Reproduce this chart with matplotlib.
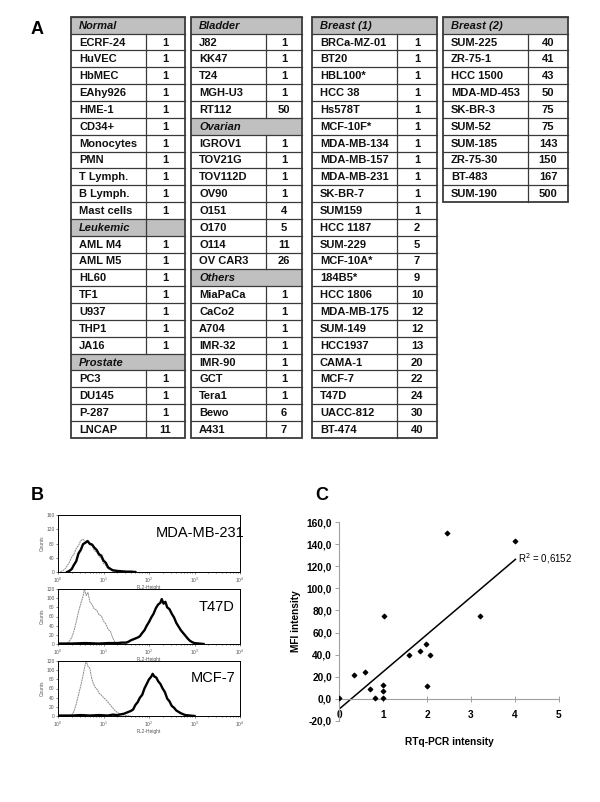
import numpy as np
import matplotlib
matplotlib.use("Agg")
import matplotlib.pyplot as plt
from matplotlib.patches import Rectangle

plt.rcParams["font.family"] = ["Liberation Sans", "DejaVu Sans"]

# ---- panel A: expression table ----
normal_cells = ["ECRF-24", "HuVEC", "HbMEC", "EAhy926", "HME-1", "CD34+", "Monocytes",
                "PMN", "T Lymph.", "B Lymph.", "Mast cells"]
normal_vals = [1, 1, 1, 1, 1, 1, 1, 1, 1, 1, 1]
leukemic_cells = ["AML M4", "AML M5", "HL60", "TF1", "U937", "THP1", "JA16"]
leukemic_vals = [1, 1, 1, 1, 1, 1, 1]
prostate_cells = ["PC3", "DU145", "P-287", "LNCAP"]
prostate_vals = [1, 1, 1, 11]
bladder_cells = ["J82", "KK47", "T24", "MGH-U3", "RT112"]
bladder_vals = [1, 1, 1, 1, 50]
ovarian_cells = ["IGROV1", "TOV21G", "TOV112D", "OV90", "O151", "O170", "O114", "OV CAR3"]
ovarian_vals = [1, 1, 1, 1, 4, 5, 11, 26]
others_cells = ["MiaPaCa", "CaCo2", "A704", "IMR-32", "IMR-90", "GCT", "Tera1", "Bewo", "A431"]
others_vals = [1, 1, 1, 1, 1, 1, 1, 6, 7]
breast1_cells = ["BRCa-MZ-01", "BT20", "HBL100*", "HCC 38", "Hs578T", "MCF-10F*",
                 "MDA-MB-134", "MDA-MB-157", "MDA-MB-231", "SK-BR-7", "SUM159", "HCC 1187",
                 "SUM-229", "MCF-10A*", "184B5*", "HCC 1806", "MDA-MB-175", "SUM-149",
                 "HCC1937", "CAMA-1", "MCF-7", "T47D", "UACC-812", "BT-474"]
breast1_vals = [1, 1, 1, 1, 1, 1, 1, 1, 1, 1, 1, 2, 5, 7, 9, 10, 12, 12, 13, 20, 22, 24, 30, 40]
breast2_cells = ["SUM-225", "ZR-75-1", "HCC 1500", "MDA-MD-453", "SK-BR-3", "SUM-52",
                 "SUM-185", "ZR-75-30", "BT-483", "SUM-190"]
breast2_vals = [40, 41, 43, 50, 75, 75, 143, 150, 167, 500]

table_columns = [
    [("Normal", normal_cells, normal_vals), ("Leukemic", leukemic_cells, leukemic_vals),
     ("Prostate", prostate_cells, prostate_vals)],
    [("Bladder", bladder_cells, bladder_vals), ("Ovarian", ovarian_cells, ovarian_vals),
     ("Others", others_cells, others_vals)],
    [("Breast (1)", breast1_cells, breast1_vals)],
    [("Breast (2)", breast2_cells, breast2_vals)],
]

# ---- panel B: flow cytometry histograms (log10 FL2, counts) ----
mda_iso_log = [0.05, 0.10, 0.15, 0.20, 0.25, 0.30, 0.35, 0.40, 0.45, 0.50, 0.55, 0.60, 0.65,
               0.70, 0.75, 0.80, 0.85, 0.90, 0.95, 1.00, 1.05, 1.10, 1.15, 1.20, 1.30, 1.40]
mda_iso_cnt = [1, 3, 8, 17, 27, 42, 50, 66, 74, 88, 92, 86, 84, 76, 74, 60, 56, 44, 38, 24,
               19, 9, 7, 3, 1, 0]
mda_ab_log = [0.20, 0.25, 0.30, 0.35, 0.40, 0.45, 0.50, 0.55, 0.60, 0.65, 0.70, 0.75, 0.80,
              0.85, 0.90, 0.95, 1.00, 1.05, 1.10, 1.15, 1.20, 1.25, 1.30, 1.40, 1.50, 1.60, 1.70]
mda_ab_cnt = [0, 3, 8, 20, 30, 52, 62, 78, 82, 87, 79, 77, 68, 62, 50, 46, 32, 26, 13, 9, 5,
              4, 3, 2, 1, 1, 0]

t47_iso_log = [0.15, 0.20, 0.25, 0.30, 0.35, 0.40, 0.45, 0.50, 0.55, 0.58, 0.62, 0.66, 0.70,
               0.75, 0.80, 0.85, 0.90, 0.95, 1.00, 1.05, 1.10, 1.15, 1.20, 1.25, 1.30, 1.40]
t47_iso_cnt = [0, 2, 6, 14, 28, 48, 70, 88, 104, 120, 106, 112, 92, 86, 76, 74, 64, 62, 50,
               44, 32, 28, 14, 4, 1, 0]
t47_ab_log = [0.00, 0.30, 0.60, 0.90, 1.10, 1.30, 1.40, 1.50, 1.55, 1.60, 1.65, 1.70, 1.75,
              1.80, 1.85, 1.90, 1.95, 2.00, 2.05, 2.10, 2.15, 2.20, 2.25, 2.28, 2.32, 2.36,
              2.40, 2.45, 2.50, 2.55, 2.60, 2.65, 2.70, 2.75, 2.80, 2.85, 2.90, 2.95, 3.00,
              3.10, 3.20]
t47_ab_cnt = [1, 1, 2, 1, 2, 2, 3, 3, 5, 8, 10, 12, 14, 17, 24, 30, 40, 48, 58, 66, 78, 86,
              90, 98, 88, 92, 80, 76, 66, 58, 46, 38, 30, 24, 18, 12, 7, 4, 2, 1, 0]

mcf_iso_log = [0.25, 0.30, 0.35, 0.40, 0.45, 0.50, 0.55, 0.58, 0.62, 0.66, 0.70, 0.74, 0.78,
               0.82, 0.86, 0.90, 0.95, 1.00, 1.05, 1.10, 1.15, 1.20, 1.25, 1.30, 1.35, 1.40,
               1.50, 1.60]
mcf_iso_cnt = [0, 2, 10, 26, 46, 66, 88, 104, 120, 108, 104, 82, 70, 62, 58, 50, 46, 40, 36,
               30, 24, 18, 12, 8, 5, 3, 1, 0]
mcf_ab_log = [0.00, 0.30, 0.50, 0.70, 0.90, 1.10, 1.20, 1.30, 1.40, 1.45, 1.50, 1.55, 1.60,
              1.65, 1.70, 1.75, 1.80, 1.85, 1.90, 1.95, 2.00, 2.05, 2.08, 2.12, 2.16, 2.20,
              2.25, 2.30, 2.35, 2.40, 2.45, 2.50, 2.55, 2.60, 2.65, 2.70, 2.75, 2.80, 2.90, 3.00]
mcf_ab_cnt = [1, 1, 2, 1, 2, 1, 3, 2, 4, 5, 7, 9, 11, 14, 24, 30, 40, 46, 60, 70, 80, 86, 92,
              86, 84, 76, 70, 60, 52, 38, 32, 22, 18, 12, 9, 6, 4, 2, 1, 0]

hist_names = ["MDA-MB-231", "T47D", "MCF-7"]

# ---- panel C: RTq-PCR vs MFI ----
rtq_pcr = [0.00, 0.34, 0.58, 0.70, 0.81, 1.00, 1.00, 1.00, 1.03, 1.58, 1.83, 1.98, 2.00,
           2.07, 2.45, 3.20, 4.01]
mfi = [1, 22, 24, 9, 1, 13, 7, 1, 75, 40, 43, 50, 12, 40, 150, 75, 143]
r2_text = "R$^2$ = 0,6152"

W, H = 600, 802
fig = plt.figure(figsize=(W / 100, H / 100), dpi=100)
canvas = fig.add_axes([0, 0, 1, 1])
canvas.set_xlim(0, W)
canvas.set_ylim(H, 0)
canvas.axis("off")

ROW_H = 16.84
TABLE_TOP = 16.8
table_x = [(71, 146, 185), (191, 266, 302), (312, 397, 437), (443, 528, 568)]
line_c = "#3a3a3a"
txt_kw = dict(fontsize=8.0, fontweight="bold", va="center", color="#111111")

for (x0, xs, x1), groups in zip(table_x, table_columns):
    row = 0
    for title, cells, vals in groups:
        top = TABLE_TOP + row * ROW_H
        canvas.add_patch(Rectangle((x0, top), x1 - x0, ROW_H, facecolor="#c0c0c0",
                                   edgecolor="none", zorder=1))
        canvas.text(x0 + 8, top + ROW_H / 2 + 0.5, title, style="italic", **txt_kw)
        canvas.plot([x0, x1], [top, top], color=line_c, lw=0.9, zorder=3)
        if title == "Leukemic":
            canvas.plot([xs, xs], [top, top + ROW_H], color=line_c, lw=0.9, zorder=3)
        row += 1
        for name, val in zip(cells, vals):
            top = TABLE_TOP + row * ROW_H
            canvas.plot([x0, x1], [top, top], color=line_c, lw=0.9, zorder=3)
            canvas.plot([xs, xs], [top, top + ROW_H], color=line_c, lw=0.9, zorder=3)
            canvas.text(x0 + 8, top + ROW_H / 2 + 0.5, name, **txt_kw)
            canvas.text((xs + x1) / 2, top + ROW_H / 2 + 0.5, str(val), ha="center", **txt_kw)
            row += 1
    bottom = TABLE_TOP + row * ROW_H
    canvas.add_patch(Rectangle((x0, TABLE_TOP), x1 - x0, bottom - TABLE_TOP, facecolor="none",
                               edgecolor=line_c, lw=1.3, zorder=4))

for letter, lx, ly in [("A", 37, 30), ("B", 37, 496), ("C", 322, 496)]:
    canvas.text(lx, ly, letter, fontsize=13, fontweight="bold", ha="center", va="center")

# ---- panel B ----
hist_sets = [
    (mda_iso_log, mda_iso_cnt, mda_ab_log, mda_ab_cnt, 160, [0, 40, 80, 120, 160]),
    (t47_iso_log, t47_iso_cnt, t47_ab_log, t47_ab_cnt, 120, [0, 20, 40, 60, 80, 100, 120]),
    (mcf_iso_log, mcf_iso_cnt, mcf_ab_log, mcf_ab_cnt, 120, [0, 20, 40, 60, 80, 100, 120]),
]
hist_boxes = [(515, 572), (589, 644), (661, 716)]
label_pos = [(200, 533), (217, 607), (213, 678)]
for (iso_x, iso_y, ab_x, ab_y, ymax, yt), (top, bot), name, (tx, ty) in zip(
        hist_sets, hist_boxes, hist_names, label_pos):
    ax = fig.add_axes([58 / W, (H - bot) / H, 182 / W, (bot - top) / H])
    ax.plot(10 ** np.array(iso_x), iso_y, color="#8c8c8c", lw=0.7, ls=(0, (2, 0.6)))
    ax.plot(10 ** np.array(ab_x), ab_y, color="black", lw=1.7)
    ax.set_xscale("log")
    ax.set_xlim(1, 1e4)
    ax.set_ylim(0, ymax)
    ax.set_yticks(yt)
    ax.tick_params(labelsize=3.5, length=1.5, width=0.5, colors="#555555", pad=1)
    ax.tick_params(which="minor", length=1, width=0.4)
    ax.set_xlabel("FL2-Height", fontsize=3.5, labelpad=0.5, color="#555555")
    ax.set_ylabel("Counts", fontsize=3.5, labelpad=1, color="#555555")
    for s in ax.spines.values():
        s.set_linewidth(0.7)
    fig.text(tx / W, 1 - ty / H, name, fontsize=10.5, ha="center", va="center")

# ---- panel C ----
axc = fig.add_axes([339 / W, (H - 721) / H, 220 / W, 199 / H])
axc.scatter(rtq_pcr, mfi, marker="D", s=5, color="black", zorder=3)
slope, icpt = np.polyfit(rtq_pcr, mfi, 1)
fit_x = np.array([0, max(rtq_pcr)])
axc.plot(fit_x, slope * fit_x + icpt, color="black", lw=1.1)
axc.text(4.06, 127, r2_text, fontsize=7, va="center")
axc.set_xlim(0, 5)
axc.set_ylim(-20, 160)
axc.set_yticks(range(-20, 161, 20))
axc.set_yticklabels([f"{v:.1f}".replace(".", ",") for v in range(-20, 161, 20)])
axc.set_xticks(range(0, 6))
for s in ["top", "right"]:
    axc.spines[s].set_visible(False)
axc.spines["bottom"].set_position(("data", 0))
for s in ["bottom", "left"]:
    axc.spines[s].set_color("#a0a0a0")
    axc.spines[s].set_linewidth(0.8)
axc.tick_params(axis="y", length=3, width=0.7, color="#a0a0a0", labelsize=7.3, pad=2)
axc.tick_params(axis="x", direction="inout", length=4, width=0.7, color="#a0a0a0",
                labelsize=7.3, pad=6)
for lab in axc.get_xticklabels() + axc.get_yticklabels():
    lab.set_fontweight("bold")
axc.set_ylabel("MFI intensity", fontsize=7.3, fontweight="bold", labelpad=4)
axc.set_xlabel("RTq-PCR intensity", fontsize=7.3, fontweight="bold", labelpad=12)
axc.patch.set_alpha(0)

fig.savefig("out.png", dpi=100)
